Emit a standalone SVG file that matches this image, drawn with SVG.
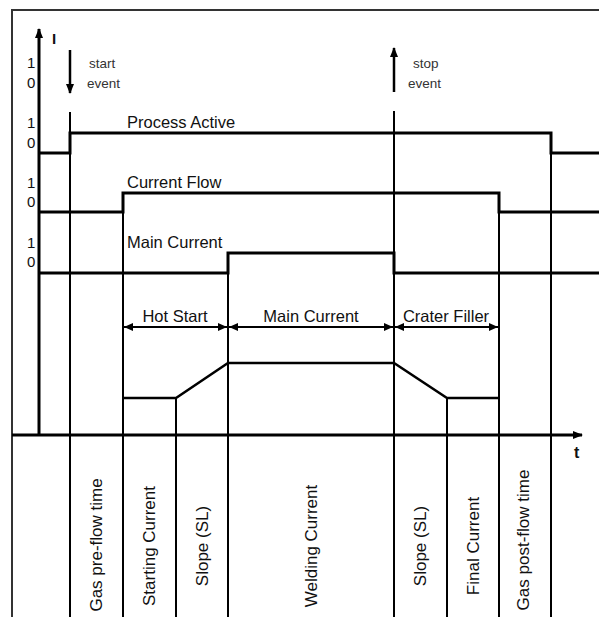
<svg xmlns="http://www.w3.org/2000/svg" width="599" height="617" viewBox="0 0 599 617">
<style>
text{font-family:"Liberation Sans",Arial,sans-serif;fill:#111}
.sig{fill:none;stroke:#000;stroke-width:3;stroke-linejoin:miter}
.v{stroke:#000;stroke-width:2;fill:none}
.frame{stroke:#333;stroke-width:2;fill:none}
.lbl{font-size:16.5px}
.lv{font-size:15px}
.ev{font-size:13.5px;fill:#333}
.rot{font-size:17px;text-anchor:middle}
.dim{font-size:16.5px;text-anchor:middle}
</style>
<defs>
<marker id="ah" markerWidth="10" markerHeight="8" refX="9" refY="4" orient="auto" markerUnits="userSpaceOnUse">
<path d="M0,0 L10,4 L0,8 Z" fill="#000"/>
</marker>
<marker id="ahs" markerWidth="9" markerHeight="8" refX="9" refY="4" orient="auto-start-reverse" markerUnits="userSpaceOnUse">
<path d="M0,0 L9,4 L0,8 Z" fill="#000"/>
</marker>
</defs>
<rect width="599" height="617" fill="#fff"/>
<g id="frame">
<path class="frame" d="M12,617 V10 H599"/>
</g>
<g id="axes">
<line x1="39" y1="436" x2="39" y2="29" stroke="#000" stroke-width="3" marker-end="url(#ah)"/>
<line x1="12" y1="435" x2="582" y2="435" stroke="#000" stroke-width="3" marker-end="url(#ah)"/>
<text x="52" y="44" style="font-size:15px;font-weight:bold">I</text>
<text x="574" y="458" style="font-size:16px;font-weight:bold">t</text>
</g>
<g id="levels" class="lv">
<text x="27" y="68">1</text><text x="27" y="88">0</text>
<text x="27" y="128">1</text><text x="27" y="148">0</text>
<text x="27" y="188">1</text><text x="27" y="207">0</text>
<text x="27" y="248">1</text><text x="27" y="267">0</text>
</g>
<g id="start-event">
<line x1="70" y1="50" x2="70" y2="93" stroke="#000" stroke-width="2.5" marker-end="url(#ah)"/>
<text class="ev" x="89" y="68">start</text>
<text class="ev" x="87" y="88">event</text>
</g>
<g id="stop-event">
<line x1="394" y1="92" x2="394" y2="48" stroke="#000" stroke-width="2.5" marker-end="url(#ah)"/>
<text class="ev" x="413" y="68">stop</text>
<text class="ev" x="408" y="88">event</text>
</g>
<g id="connectors">
<line class="v" x1="70" y1="112" x2="70" y2="617"/>
<line class="v" x1="123" y1="193" x2="123" y2="617"/>
<line class="v" x1="176" y1="398" x2="176" y2="617"/>
<line class="v" x1="228" y1="253" x2="228" y2="617"/>
<line class="v" x1="394" y1="111" x2="394" y2="617"/>
<line class="v" x1="447" y1="398" x2="447" y2="617"/>
<line class="v" x1="499" y1="193" x2="499" y2="617"/>
<line class="v" x1="551" y1="133" x2="551" y2="617"/>
</g>
<g id="process-active">
<path class="sig" d="M39,153 H70 V133 H551 V153 H599"/>
<text class="lbl" x="127" y="128">Process Active</text>
</g>
<g id="current-flow">
<path class="sig" d="M39,212 H123 V193 H499 V212 H599"/>
<text class="lbl" x="127" y="188">Current Flow</text>
</g>
<g id="main-current">
<path class="sig" d="M39,273 H228 V253 H394 V273 H599"/>
<text class="lbl" x="127" y="248">Main Current</text>
</g>
<g id="weld-profile">
<path class="sig" style="stroke-width:2.5" d="M123,398 H176 L228,363 H394 L447,398 H499"/>
</g>
<g id="dimensions">
<line x1="124" y1="327" x2="227" y2="327" stroke="#000" stroke-width="2" marker-start="url(#ahs)" marker-end="url(#ahs)"/>
<line x1="229" y1="327" x2="393" y2="327" stroke="#000" stroke-width="2" marker-start="url(#ahs)" marker-end="url(#ahs)"/>
<line x1="395" y1="327" x2="498" y2="327" stroke="#000" stroke-width="2" marker-start="url(#ahs)" marker-end="url(#ahs)"/>
<text class="dim" x="175" y="322">Hot Start</text>
<text class="dim" x="311" y="322">Main Current</text>
<text class="dim" x="446" y="322">Crater Filler</text>
</g>
<g id="phase-labels" class="rot">
<text transform="translate(102,545) rotate(-90)">Gas pre-flow time</text>
<text transform="translate(155,546) rotate(-90)">Starting Current</text>
<text transform="translate(208,546) rotate(-90)">Slope (SL)</text>
<text transform="translate(317,546) rotate(-90)">Welding Current</text>
<text transform="translate(426,546) rotate(-90)">Slope (SL)</text>
<text transform="translate(479,546) rotate(-90)">Final Current</text>
<text transform="translate(529,540) rotate(-90)">Gas post-flow time</text>
</g>
</svg>
